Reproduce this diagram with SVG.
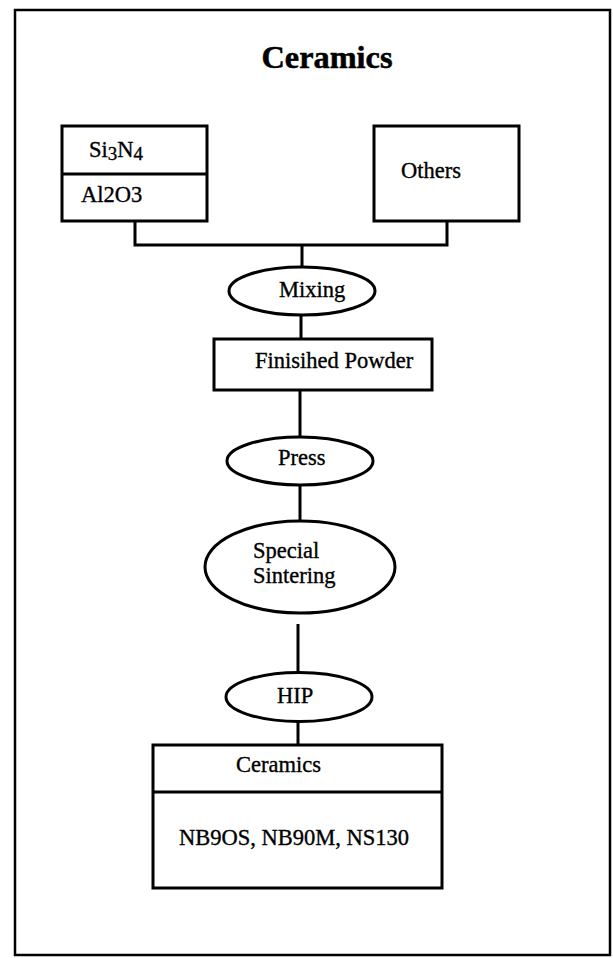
<svg xmlns="http://www.w3.org/2000/svg" width="613" height="958" viewBox="0 0 613 958">
<style>
  .box { fill: #ffffff; stroke: #000000; stroke-width: 3; }
  .ln { fill: none; stroke: #000000; stroke-width: 3; }
  .t { font-family: "Liberation Serif", "Times New Roman", serif; font-size: 22.5px; fill: #000000; stroke: #000000; stroke-width: 0.35; }
  .title { font-family: "Liberation Serif", "Times New Roman", serif; font-size: 31px; font-weight: bold; fill: #000000; stroke: #000000; stroke-width: 0.5; }
</style>
<rect x="0" y="0" width="613" height="958" fill="#ffffff"/>
<rect id="frame" x="15" y="10" width="595" height="945" fill="none" stroke="#000000" stroke-width="2.5"/>
<text id="title" class="title" x="327" y="68" text-anchor="middle" textLength="131" lengthAdjust="spacingAndGlyphs">Ceramics</text>
<g id="connectors">
  <polyline class="ln" points="135,221 135,245 447,245 447,221"/>
  <line class="ln" x1="302" y1="245" x2="302" y2="267"/>
  <line class="ln" x1="301" y1="315" x2="301" y2="339"/>
  <line class="ln" x1="300" y1="390" x2="300" y2="437"/>
  <line class="ln" x1="300" y1="485" x2="300" y2="522"/>
  <line class="ln" x1="298" y1="624" x2="298" y2="673"/>
  <line class="ln" x1="298" y1="722" x2="298" y2="745"/>
</g>
<g id="node-si3n4-al2o3">
  <rect class="box" x="62" y="126" width="145" height="95"/>
  <line class="ln" x1="62" y1="174" x2="207" y2="174"/>
  <text class="t" x="89" y="157">Si<tspan font-size="19" dy="3">3</tspan><tspan dy="-3">N</tspan><tspan font-size="19" dy="3">4</tspan></text>
  <text class="t" x="81" y="202">Al2O3</text>
</g>
<g id="node-others">
  <rect class="box" x="374" y="126" width="145" height="95"/>
  <text class="t" x="401" y="178">Others</text>
</g>
<g id="node-mixing">
  <ellipse class="box" cx="302" cy="291" rx="73" ry="24"/>
  <text class="t" x="279" y="297">Mixing</text>
</g>
<g id="node-finished-powder">
  <rect class="box" x="214" y="339" width="218" height="51"/>
  <text class="t" x="255" y="368">Finisihed Powder</text>
</g>
<g id="node-press">
  <ellipse class="box" cx="300" cy="461" rx="73" ry="24"/>
  <text class="t" x="278" y="465">Press</text>
</g>
<g id="node-special-sintering">
  <ellipse class="box" cx="300" cy="567" rx="95" ry="46"/>
  <text class="t" x="253" y="558">Special</text>
  <text class="t" x="253" y="583">Sintering</text>
</g>
<g id="node-hip">
  <ellipse class="box" cx="299" cy="697" rx="73" ry="24.5"/>
  <text class="t" x="277" y="703">HIP</text>
</g>
<g id="node-ceramics">
  <rect class="box" x="153" y="745" width="289" height="143"/>
  <line class="ln" x1="153" y1="792" x2="442" y2="792"/>
  <text class="t" x="236" y="772">Ceramics</text>
  <text class="t" x="179" y="845">NB9OS, NB90M, NS130</text>
</g>
</svg>
